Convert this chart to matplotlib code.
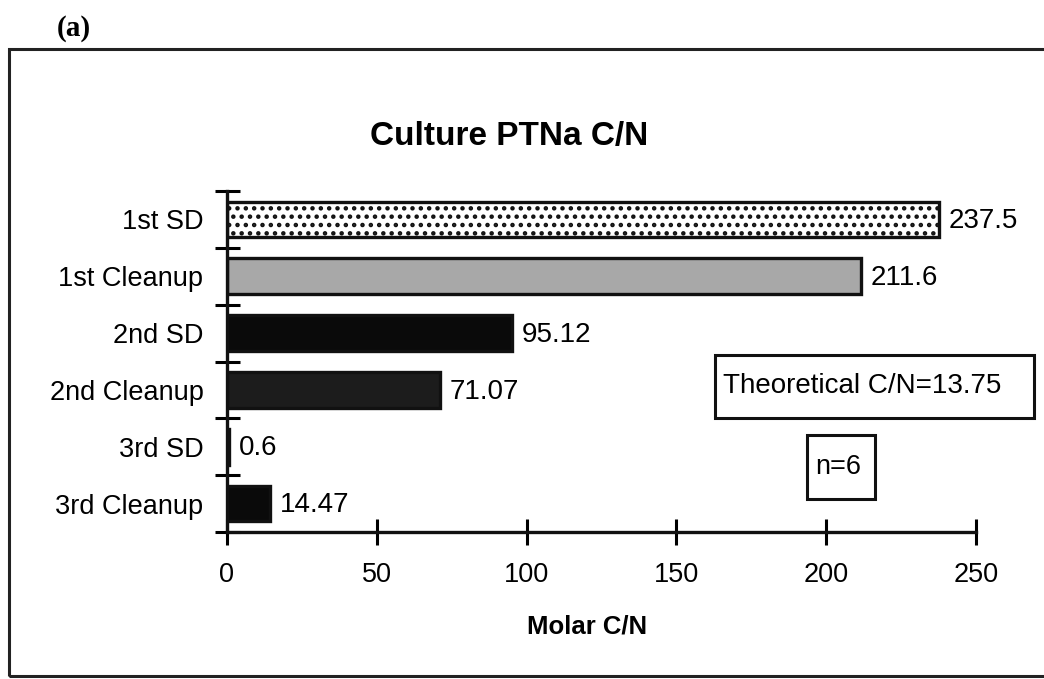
import matplotlib
matplotlib.use('Agg')
import matplotlib.pyplot as plt
from matplotlib.patches import Rectangle

plt.rcParams['font.family'] = ['Liberation Sans', 'DejaVu Sans']
plt.rcParams['hatch.linewidth'] = 2.0

categories = ['1st SD', '1st Cleanup', '2nd SD', '2nd Cleanup', '3rd SD', '3rd Cleanup']
values = [237.5, 211.6, 95.12, 71.07, 0.6, 14.47]
value_labels = ['237.5', '211.6', '95.12', '71.07', '0.6', '14.47']
xticks = [0, 50, 100, 150, 200, 250]

W, H = 1044, 679
fig = plt.figure(figsize=(W / 100, H / 100), dpi=100)

# outer frame (runs off the right edge)
fig.patches.append(Rectangle((9 / W, 1 - 676 / H), 1.2, (676 - 49) / H,
                             transform=fig.transFigure, fill=False,
                             lw=2.2, ec='#222222'))
fig.text(57 / W, 1 - 28 / H, '(a)', family='Liberation Serif',
         fontweight='bold', fontsize=21, va='center', ha='left')

ax = fig.add_axes([227 / W, 1 - 532 / H, (976 - 227) / W, (532 - 191) / H])

faces = ['white', '#a8a8a8', '#0a0a0a', '#1c1c1c', '#0a0a0a', '#0a0a0a']
y = list(range(len(categories)))
bars = ax.barh(y, values, height=0.63, color=faces, edgecolor='#111111',
               linewidth=2.4)
bars[0].set_hatch('..')

for yi, v, lab in zip(y, values, value_labels):
    ax.text(v + 3.2, yi + 0.03, lab, va='center', ha='left', fontsize=20)

ax.set_xlim(0, 250)
ax.set_ylim(5.5, -0.5)
for s in ['top', 'right']:
    ax.spines[s].set_visible(False)
for s in ['left', 'bottom']:
    ax.spines[s].set_linewidth(2.4)
    ax.spines[s].set_color('#111111')

ax.set_xticks(xticks)
ax.set_xticklabels([str(t) for t in xticks], fontsize=19.5)
ax.tick_params(axis='x', direction='inout', length=19, width=2.2, pad=12)

ax.set_yticks([i - 0.5 for i in range(len(categories) + 1)])
ax.set_yticklabels([])
ax.tick_params(axis='y', which='major', direction='inout', length=18, width=2.2)
ax.set_yticks(y, minor=True)
ax.set_yticklabels(categories, minor=True, fontsize=19.5)
ax.tick_params(axis='y', which='minor', length=0, pad=17)

fig.text(587 / W, 1 - 627 / H, 'Molar C/N', fontsize=18.5, fontweight='bold',
         ha='center', va='center')
fig.text(509 / W, 1 - 136 / H, 'Culture PTNa C/N', fontsize=24,
         fontweight='bold', ha='center', va='center')

# annotation boxes
fig.patches.append(Rectangle((715 / W, 1 - 418 / H), (1034 - 715) / W, (418 - 355) / H,
                             transform=fig.transFigure, fill=False, lw=2.2, ec='#111111'))
fig.text(723 / W, 1 - 386 / H, 'Theoretical C/N=13.75', fontsize=20,
         ha='left', va='center')
fig.patches.append(Rectangle((807 / W, 1 - 499 / H), (875 - 807) / W, (499 - 435) / H,
                             transform=fig.transFigure, fill=False, lw=2.2, ec='#111111'))
fig.text(838 / W, 1 - 467 / H, 'n=6', fontsize=19.5, ha='center', va='center')

fig.savefig('out.png', dpi=100)
